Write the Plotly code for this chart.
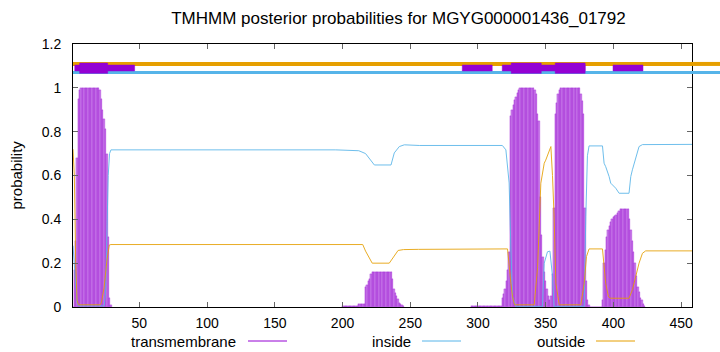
import plotly.graph_objects as go

# ---------------- data ----------------
seq_len = 458
title_text = "TMHMM posterior probabilities for MGYG000001436_01792"

# transmembrane posterior per residue (only residues with visible values)
tm_pos = (list(range(1, 30)) + list(range(200, 246)) + list(range(295, 424)))
tm_val = (
    # 1..29
    [0.0, 0.17, 0.3, 0.68, 0.95, 0.99] + [1.0] * 14 +
    [0.99, 0.95, 0.9, 0.86, 0.81, 0.7, 0.32, 0.04, 0.01] +
    # 200..245
    [0.003] * 12 + [0.012] * 5 +
    [0.09, 0.1, 0.12, 0.13, 0.15] + [0.16] * 15 +
    [0.13, 0.08, 0.065, 0.05, 0.035, 0.02, 0.015, 0.01, 0.005] +
    # 295..423
    [0.004] * 23 +
    [0.04, 0.06, 0.08, 0.12, 0.17, 0.25, 0.87, 0.9, 0.92, 0.945, 0.96, 0.975, 0.99] +
    [1.0] * 11 +
    [0.99, 0.97, 0.88, 0.85, 0.5, 0.33, 0.23, 0.16, 0.12, 0.08, 0.05, 0.03,
     0.05, 0.15, 0.45, 0.88, 0.93, 0.97, 0.99] +
    [1.0] * 15 +
    [0.97, 0.94, 0.88, 0.45, 0.12, 0.03, 0.01] +
    [0.0] * 9 +
    [0.03, 0.2, 0.26, 0.32, 0.35, 0.37, 0.39, 0.4, 0.41, 0.415, 0.42, 0.43, 0.44] +
    [0.447] * 7 +
    [0.4, 0.35, 0.3, 0.25, 0.2, 0.14, 0.09, 0.07, 0.04, 0.03, 0.015, 0.005]
)

# inside posterior (read at break points)
in_x = [1, 2, 3, 4, 5, 24, 25, 26, 27, 28, 29, 195, 212, 217, 221, 223.5, 235.8,
        238.2, 241.9, 245.6, 256.6, 318, 320.6, 323, 324.3, 325.5, 328, 347.6,
        348.9, 351.3, 353.1, 355, 356.2, 378.4, 379.6, 380.8, 382, 391.9, 393.1,
        394.3, 396.8, 398, 401.7, 404.2, 411.5, 412.8, 414, 416.5, 418.9, 421.4, 458]
in_y = [0.28, 0.2, 0.08, 0.02, 0.005, 0.005, 0.06, 0.3, 0.6, 0.7, 0.717, 0.717,
        0.713, 0.7, 0.671, 0.648, 0.648, 0.703, 0.732, 0.74, 0.737, 0.737, 0.717,
        0.566, 0.26, 0.047, 0.003, 0.003, 0.2, 0.252, 0.255, 0.14, 0.003, 0.003,
        0.412, 0.69, 0.735, 0.735, 0.656, 0.64, 0.595, 0.565, 0.542, 0.519, 0.519,
        0.595, 0.626, 0.686, 0.732, 0.741, 0.742]

# outside posterior (read at break points)
out_x = [1, 2, 3, 4, 5, 21, 22, 24, 26, 27.8, 29, 214.9, 217, 219.8, 221.9, 234.5,
         238, 241, 245, 256, 321.8, 323, 324.3, 325.5, 327, 341.5, 344, 346.4,
         348.9, 350, 351.8, 353.8, 355, 356.2, 357.5, 360, 375.9, 378.4, 380.1,
         382, 391.9, 393.1, 394.3, 396.3, 398, 411.5, 414, 416.5, 418.9, 421.4,
         423.8, 458]
out_y = [0.72, 0.6, 0.2, 0.03, 0.01, 0.01, 0.02, 0.09, 0.21, 0.283, 0.285, 0.285,
         0.255, 0.22, 0.2, 0.2, 0.23, 0.258, 0.262, 0.263, 0.265, 0.18, 0.108,
         0.047, 0.01, 0.01, 0.18, 0.565, 0.656, 0.67, 0.702, 0.732, 0.6, 0.41,
         0.108, 0.01, 0.01, 0.108, 0.23, 0.265, 0.265, 0.184, 0.108, 0.047, 0.04,
         0.04, 0.078, 0.14, 0.2, 0.245, 0.256, 0.256]

# top annotation track
outside_track_y = 1.109
inside_track_y = 1.070
tm_thin_segments = [(2.3, 46.5), (288.4, 310.5), (317.9, 379.1), (399.7, 421.8)]
tm_thin_y = (1.077, 1.104)
tm_thick_segments = [(5.9, 26.6), (324.5, 346.7), (357.0, 379.1)]
tm_thick_y = (1.066, 1.113)

x_ticks = [50, 100, 150, 200, 250, 300, 350, 400, 450]
y_ticks = [0, 0.2, 0.4, 0.6, 0.8, 1.0, 1.2]

legend_names = ["transmembrane", "inside", "outside"]

# ---------------- styles ----------------
C_TM = "#9400D3"
C_IN = "#56B4E9"
C_OUT = "#E69F00"
FONT = "Liberation Sans, Arial, sans-serif"

fig = go.Figure()

fig.add_trace(go.Bar(
    x=tm_pos, y=tm_val, width=1,
    marker=dict(color="rgba(148,0,211,0.5)", line=dict(color=C_TM, width=0.25)),
    showlegend=False, hoverinfo="x+y"))

fig.add_trace(go.Scatter(x=in_x, y=in_y, mode="lines",
                         line=dict(color=C_IN, width=1), opacity=0.85, showlegend=False))
fig.add_trace(go.Scatter(x=out_x, y=out_y, mode="lines",
                         line=dict(color=C_OUT, width=1), opacity=0.85, showlegend=False))

# top tracks
fig.add_trace(go.Scatter(x=[1, seq_len], y=[outside_track_y] * 2, mode="lines",
                         line=dict(color=C_OUT, width=4), showlegend=False))
fig.add_trace(go.Scatter(x=[1, seq_len], y=[inside_track_y] * 2, mode="lines",
                         line=dict(color=C_IN, width=3), showlegend=False))


def rect_trace(segs, yr):
    xs, ys = [], []
    for a, b in segs:
        xs += [a, b, b, a, a, None]
        ys += [yr[0], yr[0], yr[1], yr[1], yr[0], None]
    return go.Scatter(x=xs, y=ys, mode="lines", fill="toself",
                      fillcolor=C_TM, line=dict(color=C_TM, width=0.5),
                      showlegend=False, hoverinfo="skip")


fig.add_trace(rect_trace(tm_thin_segments, tm_thin_y))
fig.add_trace(rect_trace(tm_thick_segments, tm_thick_y))

# plot geometry (pixels)
W, H = 720, 352
L, R, T, B = 73, 28, 44, 45
pw = W - L - R
ph = H - T - B

shapes = []
# overhang of the top tracks past the right border (as in reference)
for yv, col, w in [(outside_track_y, C_OUT, 4), (inside_track_y, C_IN, 3)]:
    shapes.append(dict(type="line", xref="paper", yref="y", x0=1.0, x1=(W - L) / pw,
                       y0=yv, y1=yv, line=dict(color=col, width=w), layer="above"))

# legend (gnuplot style: text then sample line)
legend_items = [(238, 248, 287, C_TM), (413, 422, 461, C_IN), (587, 596, 635, C_OUT)]
leg_y = -(341 - (H - B)) / ph
annotations = []
for name, (tx, l0, l1, col) in zip(legend_names, legend_items):
    annotations.append(dict(xref="paper", yref="paper", x=(tx - L) / pw,
                            y=leg_y, text=name,
                            showarrow=False, xanchor="right", yanchor="middle",
                            font=dict(family=FONT, size=15, color="#000")))
    shapes.append(dict(type="line", xref="paper", yref="paper",
                       x0=(l0 - L) / pw, x1=(l1 - L) / pw, y0=leg_y, y1=leg_y,
                       line=dict(color=col, width=1)))

# y-axis title placed like the reference
annotations.append(dict(xref="paper", yref="paper", x=(16 - L) / pw, y=0.5,
                        text="probability", textangle=-90, showarrow=False,
                        xanchor="center", yanchor="middle",
                        font=dict(family=FONT, size=15, color="#000")))

fig.update_layout(
    width=W, height=H,
    margin=dict(l=L, r=R, t=T, b=B),
    paper_bgcolor="white", plot_bgcolor="white",
    title=dict(text=title_text, x=398.5 / W, xref="container", xanchor="center",
               y=1 - 18 / H, yref="container", yanchor="middle",
               font=dict(family=FONT, size=17, color="#000")),
    font=dict(family=FONT, size=14, color="#000"),
    showlegend=False,
    bargap=0,
    shapes=shapes,
    annotations=annotations,
)
fig.update_xaxes(range=[1, seq_len], tickvals=x_ticks, ticks="inside", ticklen=5,
                 tickcolor="#666", showline=True, linecolor="#000", linewidth=1,
                 mirror="ticks", showgrid=False, zeroline=False,
                 ticklabelstandoff=3,
                 tickfont=dict(family=FONT, size=14))
fig.update_yaxes(range=[0, 1.2], tickvals=y_ticks, ticks="inside", ticklen=5,
                 tickcolor="#666", showline=True, linecolor="#000", linewidth=1,
                 mirror="ticks", showgrid=False, zeroline=False,
                 ticklabelstandoff=8,
                 tickfont=dict(family=FONT, size=14))

fig.write_html("out.html")
